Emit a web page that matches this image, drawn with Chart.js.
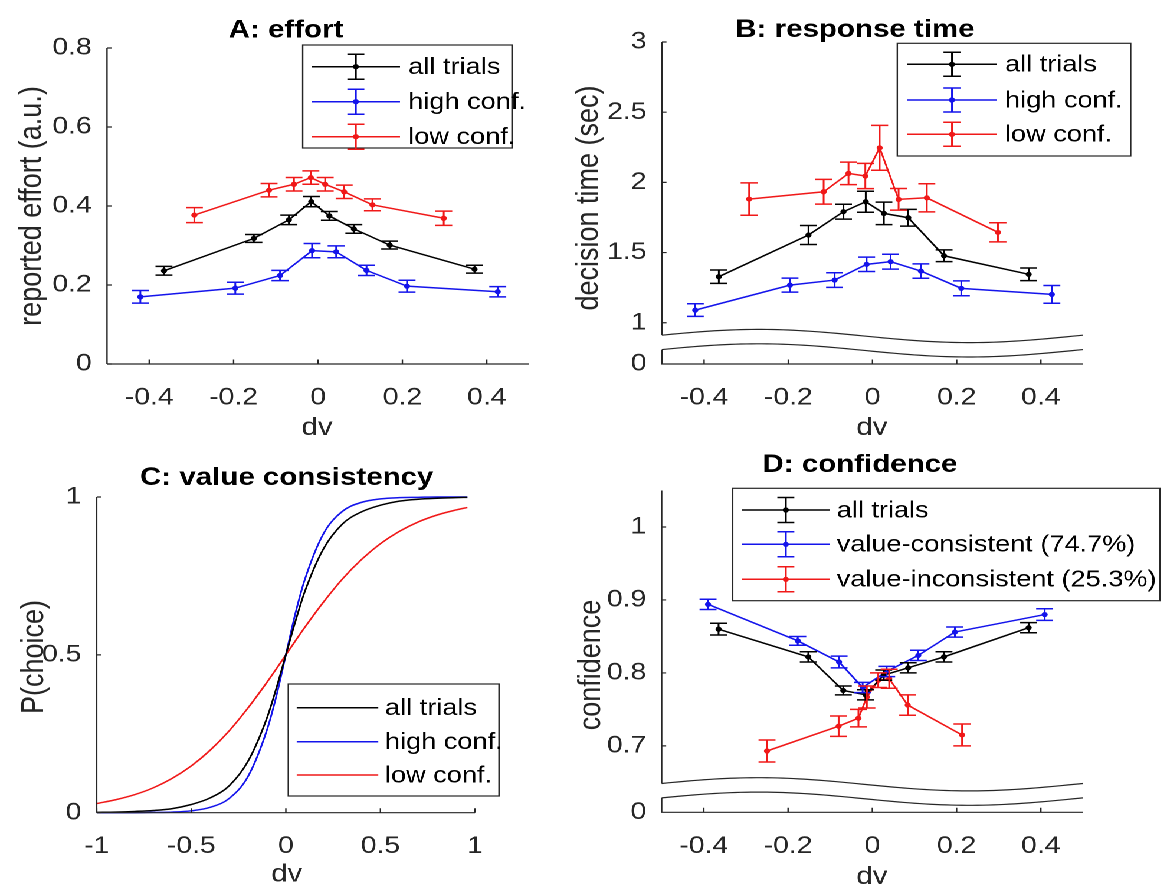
<!DOCTYPE html>
<html>
<head>
<meta charset="utf-8">
<script src="https://cdn.jsdelivr.net/npm/chart.js@4.4.1/dist/chart.umd.min.js"></script>
<style>
  html, body { margin: 0; padding: 0; background: #fff; overflow: hidden; }
  #stage { position: absolute; left: 0; top: 0; width: 985px; height: 888px;
           transform: scaleX(1.18); transform-origin: 0 0; }
  #stage canvas { position: absolute; }
</style>
</head>
<body>
<div id="stage">
  <canvas id="chartA" width="470" height="444" style="left:0;top:0;width:470px;height:444px"></canvas>
  <canvas id="chartB" width="515" height="444" style="left:470px;top:0;width:515px;height:444px"></canvas>
  <canvas id="chartC" width="470" height="444" style="left:0;top:444px;width:470px;height:444px"></canvas>
  <canvas id="chartD" width="515" height="444" style="left:470px;top:444px;width:515px;height:444px"></canvas>
</div>
<script>
// ---- data ----
const dvAll = [-0.365, -0.152, -0.069, -0.016, 0.027, 0.085, 0.170, 0.371];
const dvHigh = [-0.421, -0.196, -0.090, -0.014, 0.043, 0.115, 0.211, 0.426];
const dvLow = [-0.293, -0.116, -0.057, -0.017, 0.017, 0.062, 0.129, 0.298];

const effortAll = [0.236, 0.318, 0.365, 0.411, 0.375, 0.342, 0.301, 0.240];
const effortAllErr = [0.011, 0.010, 0.012, 0.013, 0.011, 0.011, 0.010, 0.010];
const effortHigh = [0.170, 0.192, 0.224, 0.287, 0.284, 0.237, 0.197, 0.183];
const effortHighErr = [0.016, 0.015, 0.013, 0.018, 0.015, 0.013, 0.015, 0.013];
const effortLow = [0.377, 0.440, 0.455, 0.472, 0.455, 0.436, 0.403, 0.369];
const effortLowErr = [0.019, 0.017, 0.017, 0.017, 0.017, 0.017, 0.015, 0.018];

const rtAll = [1.328, 1.625, 1.791, 1.862, 1.779, 1.748, 1.477, 1.345];
const rtAllErr = [0.048, 0.068, 0.053, 0.075, 0.080, 0.060, 0.042, 0.045];
const rtHigh = [1.090, 1.268, 1.304, 1.416, 1.435, 1.368, 1.245, 1.202];
const rtHighErr = [0.045, 0.050, 0.052, 0.051, 0.053, 0.051, 0.053, 0.063];
const rtLow = [1.881, 1.933, 2.064, 2.045, 2.246, 1.879, 1.890, 1.644];
const rtLowErr = [0.115, 0.088, 0.080, 0.090, 0.160, 0.077, 0.100, 0.068];

const choiceDv = [-1, -0.9, -0.8, -0.7, -0.6, -0.5, -0.4, -0.3, -0.2, -0.1, -0.05, 0,
                  0.05, 0.1, 0.2, 0.3, 0.4, 0.5, 0.6, 0.7, 0.8, 0.9, 0.96];
const choiceAll = [0.001, 0.002, 0.004, 0.007, 0.013, 0.026, 0.047, 0.085, 0.163, 0.300, 0.395, 0.5,
                   0.605, 0.700, 0.837, 0.915, 0.953, 0.974, 0.987, 0.993, 0.996, 0.998, 0.999];
const choiceHigh = [0, 0, 0, 0.001, 0.002, 0.006, 0.017, 0.045, 0.115, 0.262, 0.370, 0.5,
                    0.630, 0.738, 0.885, 0.955, 0.983, 0.994, 0.998, 0.999, 1, 1, 1];
const choiceLow = [0.029, 0.041, 0.057, 0.079, 0.109, 0.148, 0.198, 0.259, 0.332, 0.413, 0.456, 0.5,
                   0.544, 0.587, 0.668, 0.741, 0.802, 0.852, 0.891, 0.921, 0.943, 0.959, 0.967];

const dvCons = [-0.390, -0.177, -0.079, -0.023, 0.034, 0.109, 0.196, 0.409];
const dvIncons = [-0.250, -0.080, -0.033, -0.013, 0.014, 0.040, 0.084, 0.213];
const confAll = [0.860, 0.822, 0.776, 0.770, 0.797, 0.807, 0.822, 0.862];
const confAllErr = [0.008, 0.007, 0.006, 0.007, 0.007, 0.007, 0.007, 0.007];
const confCons = [0.894, 0.844, 0.815, 0.780, 0.802, 0.824, 0.856, 0.880];
const confConsErr = [0.007, 0.006, 0.008, 0.007, 0.007, 0.007, 0.007, 0.008];
const confIncons = [0.693, 0.727, 0.738, 0.767, 0.790, 0.792, 0.756, 0.715];
const confInconsErr = [0.015, 0.014, 0.012, 0.015, 0.010, 0.013, 0.014, 0.015];

const dvTicks = [-0.4, -0.2, 0, 0.2, 0.4];
const choiceDvTicks = [-1, -0.5, 0, 0.5, 1];
const effortTicks = [0, 0.2, 0.4, 0.6, 0.8];
const rtTicks = [1, 1.5, 2, 2.5, 3];
const choiceTicks = [0, 0.5, 1];
const confTicks = [0.7, 0.8, 0.9, 1];

// ---- styling ----
const S = 1.18;                 // horizontal stretch of the figure
const AXIS = '#262626';
const BLACK = '#000000';
const BLUE = 'rgb(20,20,235)';
const RED = 'rgb(240,25,25)';
const FONT = '"Liberation Sans", Arial, Helvetica, sans-serif';
Chart.defaults.font.family = FONT;
Chart.defaults.color = AXIS;

const pts = (xs, ys) => xs.map((x, i) => ({ x: x, y: ys[i] }));

function errSeries(label, color, xs, ys, errs) {
  return {
    label: label, data: pts(xs, ys), errors: errs,
    showLine: true, borderColor: color, backgroundColor: color,
    borderWidth: 1.5, pointRadius: 2.6, pointHoverRadius: 2.6,
    pointBorderWidth: 0, pointBackgroundColor: color, clip: false
  };
}
function curve(label, color, xs, ys) {
  return {
    label: label, data: pts(xs, ys), showLine: true, borderColor: color,
    borderWidth: 1.5, pointRadius: 0, cubicInterpolationMode: 'monotone', clip: false
  };
}

// helper: screen coords of the reference -> local canvas coords
function loc(p, x, y) { return [x / S - p.left, y - p.top]; }

function panelPlugin(p) {
  return {
    id: 'matlab' + p.name,
    afterDatasetsDraw(chart) {
      const ctx = chart.ctx, xs = chart.scales.x, ys = chart.scales.y;
      const cap = 8.5 / S;
      chart.data.datasets.forEach(ds => {
        if (!ds.errors) return;
        ctx.save();
        ctx.strokeStyle = ds.borderColor;
        ctx.lineWidth = 1.5;
        ds.data.forEach((pt, i) => {
          const px = xs.getPixelForValue(pt.x);
          const y1 = ys.getPixelForValue(pt.y + ds.errors[i]);
          const y2 = ys.getPixelForValue(pt.y - ds.errors[i]);
          ctx.beginPath();
          ctx.moveTo(px, y1); ctx.lineTo(px, y2);
          ctx.moveTo(px - cap, y1); ctx.lineTo(px + cap, y1);
          ctx.moveTo(px - cap, y2); ctx.lineTo(px + cap, y2);
          ctx.stroke();
        });
        ctx.restore();
      });
    },
    afterDraw(chart) {
      const ctx = chart.ctx, a = chart.chartArea;
      const xs = chart.scales.x, ys = chart.scales.y;
      ctx.save();
      ctx.strokeStyle = AXIS;
      ctx.lineWidth = 1.2;

      let leftStop = a.bottom, leftResume = a.bottom;
      if (p.brk) {
        const wave = (base, f) => a.bottom - base - 6.6 * Math.cos(2 * Math.PI * (f - 0.23));
        const n = 80, w = a.right - a.left;
        ctx.fillStyle = '#fff';
        ctx.beginPath();
        for (let i = 0; i <= n; i++) ctx.lineTo(a.left + w * i / n, wave(28, i / n));
        for (let i = n; i >= 0; i--) ctx.lineTo(a.left + w * i / n, wave(13.6, i / n));
        ctx.closePath();
        ctx.fill();
        [28, 13.6].forEach(base => {
          ctx.beginPath();
          for (let i = 0; i <= n; i++) {
            const x = a.left + w * i / n, y = wave(base, i / n);
            i ? ctx.lineTo(x, y) : ctx.moveTo(x, y);
          }
          ctx.stroke();
        });
        leftStop = wave(28, 0);
        leftResume = wave(13.6, 0);
      }
      // axes lines
      ctx.beginPath();
      ctx.moveTo(a.left, a.top); ctx.lineTo(a.left, leftStop);
      ctx.moveTo(a.left, leftResume); ctx.lineTo(a.left, a.bottom);
      ctx.lineTo(a.right, a.bottom);
      ctx.stroke();
      // inward ticks
      ctx.beginPath();
      ys.ticks.forEach(t => {
        if (p.brk && Math.abs(t.value - ys.min) < 1e-9) return;
        const y = ys.getPixelForValue(t.value);
        ctx.moveTo(a.left, y); ctx.lineTo(a.left + 4.5 / S, y);
      });
      xs.ticks.forEach(t => {
        const x = xs.getPixelForValue(t.value);
        ctx.moveTo(x, a.bottom); ctx.lineTo(x, a.bottom - 4.5);
      });
      ctx.stroke();

      // title and axis labels
      ctx.fillStyle = '#000';
      ctx.textAlign = 'center';
      ctx.textBaseline = 'alphabetic';
      ctx.font = 'bold 25px ' + FONT;
      let q = loc(p, p.title[1], p.title[2]);
      ctx.fillText(p.title[0], q[0], q[1]);
      ctx.fillStyle = AXIS;
      ctx.font = '25px ' + FONT;
      q = loc(p, p.xLabel[1], p.xLabel[2]);
      ctx.fillText(p.xLabel[0], q[0], q[1]);
      q = loc(p, p.yLabel[1], p.yLabel[2]);
      ctx.save();
      ctx.translate(q[0], q[1]);
      ctx.rotate(-Math.PI / 2);
      ctx.textBaseline = 'middle';
      ctx.font = p.yLabelSize + 'px ' + FONT;
      ctx.fillText(p.yLabel[0], 0, 0);
      ctx.restore();

      // legend box
      const L = p.legend;
      const b1 = loc(p, L.box[0], L.box[1]), b2 = loc(p, L.box[2], L.box[3]);
      ctx.fillStyle = '#fff';
      ctx.fillRect(b1[0], b1[1], b2[0] - b1[0], b2[1] - b1[1]);
      ctx.lineWidth = 1.2;
      ctx.strokeStyle = AXIS;
      ctx.strokeRect(b1[0], b1[1], b2[0] - b1[0], b2[1] - b1[1]);
      ctx.font = '23px ' + FONT;
      ctx.textAlign = 'left';
      ctx.textBaseline = 'middle';
      chart.data.datasets.forEach((ds, i) => {
        const y = L.rows[i] - p.top;
        const x1 = L.line[0] / S - p.left, x2 = L.line[1] / S - p.left;
        const xm = (x1 + x2) / 2, cap = 8.5 / S;
        ctx.strokeStyle = ds.borderColor;
        ctx.lineWidth = 1.5;
        ctx.beginPath();
        ctx.moveTo(x1, y); ctx.lineTo(x2, y);
        if (L.err) {
          ctx.moveTo(xm, y - L.err); ctx.lineTo(xm, y + L.err);
          ctx.moveTo(xm - cap, y - L.err); ctx.lineTo(xm + cap, y - L.err);
          ctx.moveTo(xm - cap, y + L.err); ctx.lineTo(xm + cap, y + L.err);
        }
        ctx.stroke();
        if (L.err) {
          ctx.fillStyle = ds.borderColor;
          ctx.beginPath();
          ctx.arc(xm, y, 2.6, 0, 2 * Math.PI);
          ctx.fill();
        }
        ctx.fillStyle = '#000';
        ctx.fillText(ds.label, L.text / S - p.left, y + 1);
      });
      ctx.restore();
    }
  };
}

function fmt(v) { return String(Math.round(v * 100) / 100); }

function makePanel(p, datasets) {
  const aL = p.area[0] / S - p.left, aR = p.area[2] / S - p.left;
  const aT = p.area[1] - p.top, aB = p.area[3] - p.top;
  const yMin = p.yRange[0];
  return new Chart(document.getElementById(p.id), {
    type: 'scatter',
    data: { datasets: datasets },
    options: {
      responsive: false,
      animation: false,
      devicePixelRatio: 2,
      layout: { padding: { left: 0, top: aT, right: p.w - aR, bottom: 0 } },
      plugins: { legend: { display: false }, tooltip: { enabled: false } },
      scales: {
        x: {
          type: 'linear', min: p.xRange[0], max: p.xRange[1],
          grid: { display: false, drawTicks: false }, border: { display: false },
          ticks: { padding: 19.5, maxRotation: 0, minRotation: 0, font: { size: 24 }, color: AXIS, callback: v => fmt(v) },
          afterBuildTicks: s => { s.ticks = p.xTicks.map(v => ({ value: v })); },
          afterFit: s => { s.height = p.h - aB; }
        },
        y: {
          type: 'linear', min: p.yRange[0], max: p.yRange[1],
          grid: { display: false, drawTicks: false }, border: { display: false },
          ticks: {
            padding: 13, font: { size: 24 }, color: AXIS,
            callback: v => (p.brk && Math.abs(v - yMin) < 1e-9) ? '0' : fmt(v)
          },
          afterBuildTicks: s => {
            const t = p.yTicks.map(v => ({ value: v }));
            if (p.brk) t.unshift({ value: yMin });
            s.ticks = t;
          },
          afterFit: s => { s.width = aL; }
        }
      }
    },
    plugins: [panelPlugin(p)]
  });
}

const panelA = {
  name: 'A', id: 'chartA', left: 0, top: 0, w: 470, h: 444,
  area: [107, 48, 529, 364], xRange: [-0.5, 0.5], yRange: [0, 0.8],
  xTicks: dvTicks, yTicks: effortTicks, brk: false,
  title: ['A: effort', 286, 37.7], xLabel: ['dv', 317, 435],
  yLabel: ['reported effort (a.u.)', 32, 206], yLabelSize: 27,
  legend: { box: [302.7, 45, 512, 148], rows: [66.7, 101.7, 136.7], line: [311.7, 400], text: 408.3, err: 12.5 }
};
const panelB = {
  name: 'B', id: 'chartB', left: 470, top: 0, w: 515, h: 444,
  area: [662, 42, 1083, 364], xRange: [-0.5, 0.5], yRange: [0.706, 3],
  xTicks: dvTicks, yTicks: rtTicks, brk: true,
  title: ['B: response time', 855, 37], xLabel: ['dv', 872, 435],
  yLabel: ['decision time (sec)', 589, 198], yLabelSize: 27,
  legend: { box: [897.3, 43.3, 1130.7, 156], rows: [64.3, 100, 134.3], line: [907.3, 996.7], text: 1005, err: 12 }
};
const panelC = {
  name: 'C', id: 'chartC', left: 0, top: 444, w: 470, h: 444,
  area: [96.7, 497, 475, 812.7], xRange: [-1, 1], yRange: [0, 1],
  xTicks: choiceDvTicks, yTicks: choiceTicks, brk: false,
  title: ['C: value consistency', 286.7, 485], xLabel: ['dv', 286.7, 881.7],
  yLabel: ['P(choice)', 34, 657], yLabelSize: 27,
  legend: { box: [288.3, 684, 499, 796], rows: [707.7, 741.7, 775], line: [296.7, 378.3], text: 385, err: 0 }
};
const panelD = {
  name: 'D', id: 'chartD', left: 470, top: 444, w: 515, h: 444,
  area: [661.7, 490.5, 1083, 812.3], xRange: [-0.5, 0.5], yRange: [0.609, 1.05],
  xTicks: dvTicks, yTicks: confTicks, brk: true,
  title: ['D: confidence', 860, 472], xLabel: ['dv', 872, 884],
  yLabel: ['confidence', 591, 665], yLabelSize: 27,
  legend: { box: [732.7, 488.3, 1160, 600.7], rows: [510, 544.3, 579.3], line: [741.7, 830], text: 836.7, err: 12.5 }
};

makePanel(panelA, [
  errSeries('all trials', BLACK, dvAll, effortAll, effortAllErr),
  errSeries('high conf.', BLUE, dvHigh, effortHigh, effortHighErr),
  errSeries('low conf.', RED, dvLow, effortLow, effortLowErr)
]);
makePanel(panelB, [
  errSeries('all trials', BLACK, dvAll, rtAll, rtAllErr),
  errSeries('high conf.', BLUE, dvHigh, rtHigh, rtHighErr),
  errSeries('low conf.', RED, dvLow, rtLow, rtLowErr)
]);
makePanel(panelC, [
  curve('all trials', BLACK, choiceDv, choiceAll),
  curve('high conf.', BLUE, choiceDv, choiceHigh),
  curve('low conf.', RED, choiceDv, choiceLow)
]);
makePanel(panelD, [
  errSeries('all trials', BLACK, dvAll, confAll, confAllErr),
  errSeries('value-consistent (74.7%)', BLUE, dvCons, confCons, confConsErr),
  errSeries('value-inconsistent (25.3%)', RED, dvIncons, confIncons, confInconsErr)
]);
</script>
</body>
</html>
